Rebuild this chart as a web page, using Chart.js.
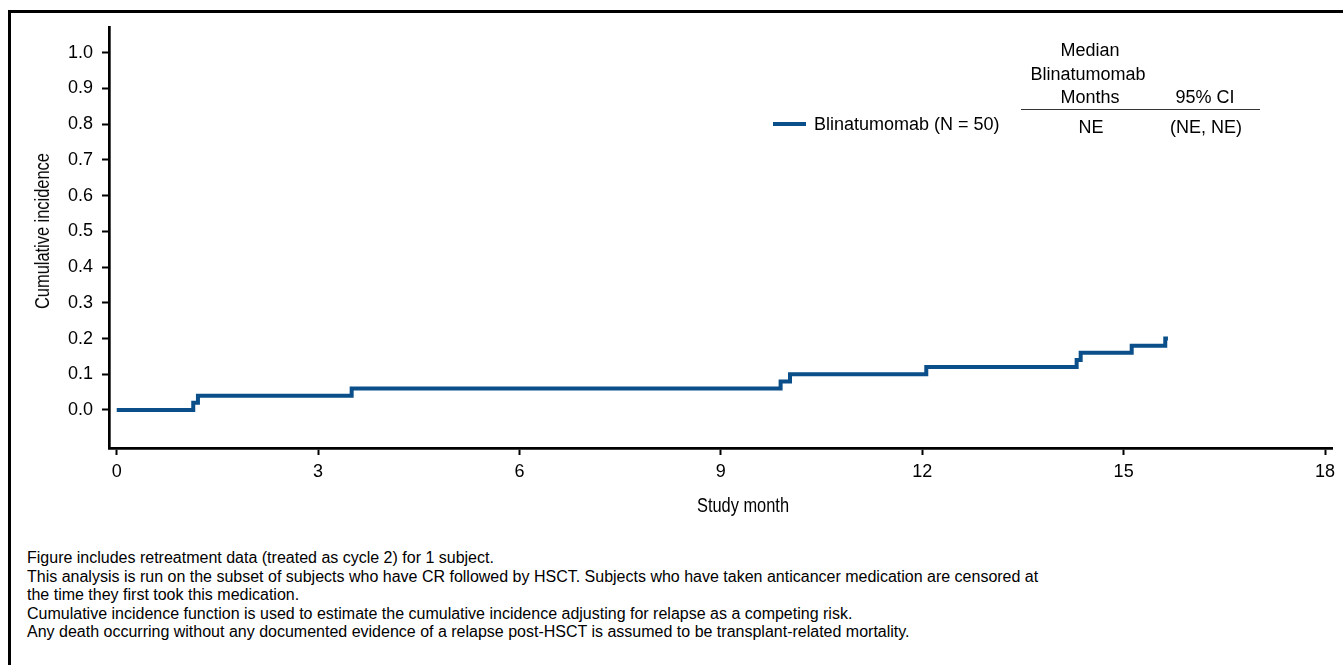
<!DOCTYPE html>
<html>
<head>
<meta charset="utf-8">
<script src="https://cdn.jsdelivr.net/npm/chart.js@4.4.1/dist/chart.umd.min.js"></script>
<style>
  html, body { margin: 0; padding: 0; background: #fff; }
  body { width: 1343px; height: 665px; position: relative; overflow: hidden; font-family: "Liberation Sans", Arial, sans-serif; color: #000; }
  #frame { position: absolute; left: 8px; top: 10px; width: 1400px; height: 700px; border-top: 3px solid #000; border-left: 3px solid #000; box-sizing: border-box; }
  #chartWrap { position: absolute; left: 0; top: 0; width: 1343px; height: 540px; }
  .t { position: absolute; white-space: nowrap; line-height: 1; transform: translate(-50%, -50%); }
  .cond { font-family: "Liberation Sans", Arial, sans-serif; font-size: 20px; }
  .lab { font-size: 18px; }
  #legendLine { position: absolute; left: 773px; top: 122px; width: 33px; height: 4px; }
  #rule { position: absolute; left: 1021px; top: 109px; width: 239px; height: 0; border-top: 1.5px solid #333; }
  #notes { position: absolute; left: 27px; top: 549px; font-size: 16px; line-height: 18.5px; white-space: nowrap; }
</style>
</head>
<body>
<div id="frame"></div>
<div id="chartWrap"><canvas id="c" width="1343" height="540"></canvas></div>
<div class="t cond" id="yTitle" style="left:42px; top:231px; transform: translate(-50%,-50%) rotate(-90deg) scaleX(0.82);"></div>
<div class="t cond" id="xTitle" style="left:743px; top:505px; transform: translate(-50%,-50%) scaleX(0.82);"></div>
<div id="legendLine"></div>
<div class="t lab" id="legendText" style="left:814px; top:124px; transform: translate(0,-50%);"></div>
<div class="t lab" id="h1" style="left:1090px; top:50px;"></div>
<div class="t lab" id="h2" style="left:1088px; top:73.5px;"></div>
<div class="t lab" id="h3" style="left:1090px; top:97px;"></div>
<div class="t lab" id="h4" style="left:1205px; top:97px;"></div>
<div id="rule"></div>
<div class="t lab" id="v1" style="left:1091px; top:126.5px;"></div>
<div class="t lab" id="v2" style="left:1206px; top:126.5px;"></div>
<div id="notes"></div>
<script>
// ---- data ----
const months = [0, 1.14, 1.21, 3.5, 9.89, 10.03, 12.06, 14.3, 14.36, 15.12, 15.62, 15.66];
const incidence = [0, 0.02, 0.04, 0.06, 0.08, 0.10, 0.12, 0.14, 0.16, 0.18, 0.20, 0.20];
const xTicks = [0, 3, 6, 9, 12, 15, 18];
const yTicks = [0.0, 0.1, 0.2, 0.3, 0.4, 0.5, 0.6, 0.7, 0.8, 0.9, 1.0];
const seriesLabel = 'Blinatumomab (N = 50)';
const xTitle = 'Study month';
const yTitle = 'Cumulative incidence';
const tableHeaderCol1 = ['Median', 'Blinatumomab', 'Months'];
const tableHeaderCol2 = '95% CI';
const tableValues = ['NE', '(NE, NE)'];
const notes = [
  'Figure includes retreatment data (treated as cycle 2) for 1 subject.',
  'This analysis is run on the subset of subjects who have CR followed by HSCT. Subjects who have taken anticancer medication are censored at',
  'the time they first took this medication.',
  'Cumulative incidence function is used to estimate the cumulative incidence adjusting for relapse as a competing risk.',
  'Any death occurring without any documented evidence of a relapse post-HSCT is assumed to be transplant-related mortality.'
];
const lineColor = '#0a4f89';

// ---- text ----
document.getElementById('yTitle').textContent = yTitle;
document.getElementById('xTitle').textContent = xTitle;
document.getElementById('legendText').textContent = seriesLabel;
document.getElementById('legendLine').style.background = lineColor;
document.getElementById('h1').textContent = tableHeaderCol1[0];
document.getElementById('h2').textContent = tableHeaderCol1[1];
document.getElementById('h3').textContent = tableHeaderCol1[2];
document.getElementById('h4').textContent = tableHeaderCol2;
document.getElementById('v1').textContent = tableValues[0];
document.getElementById('v2').textContent = tableValues[1];
const notesEl = document.getElementById('notes');
notes.forEach(n => { const d = document.createElement('div'); d.textContent = n; notesEl.appendChild(d); });

// ---- chart ----
const FONT = "'Liberation Sans', Arial, sans-serif";
new Chart(document.getElementById('c'), {
  type: 'line',
  data: {
    datasets: [{
      label: seriesLabel,
      data: months.map((m, i) => ({ x: m, y: incidence[i] })),
      stepped: true,
      borderColor: lineColor,
      backgroundColor: lineColor,
      borderWidth: 4,
      borderCapStyle: 'butt',
      borderJoinStyle: 'miter',
      pointRadius: 0,
      fill: false
    }]
  },
  options: {
    responsive: false,
    animation: false,
    devicePixelRatio: 1,
    layout: { padding: { left: 0, top: 27, right: 11, bottom: 0 } },
    plugins: { legend: { display: false }, tooltip: { enabled: false } },
    scales: {
      x: {
        type: 'linear',
        min: -0.115,
        max: 18.104,
        afterBuildTicks: s => { s.ticks = xTicks.map(v => ({ value: v })); },
        afterFit: s => { s.height = 92; },
        ticks: { font: { family: FONT, size: 18 }, color: '#000', padding: 6, maxRotation: 0, autoSkip: false, callback: v => String(v) },
        grid: { display: true, drawOnChartArea: false, drawTicks: true, tickLength: 7, tickWidth: 2, tickColor: '#000', color: '#000' },
        border: { display: true, color: '#000', width: 2.7 }
      },
      y: {
        type: 'linear',
        min: -0.1064,
        max: 1.072,
        afterBuildTicks: s => { s.ticks = yTicks.map(v => ({ value: v })); },
        afterFit: s => { s.width = 109; },
        ticks: { font: { family: FONT, size: 18 }, color: '#000', padding: 9, autoSkip: false, callback: v => Number(v).toFixed(1) },
        grid: { display: true, drawOnChartArea: false, drawTicks: true, tickLength: 7, tickWidth: 2, tickColor: '#000', color: '#000' },
        border: { display: true, color: '#000', width: 2.7 }
      }
    }
  }
});
</script>
</body>
</html>
